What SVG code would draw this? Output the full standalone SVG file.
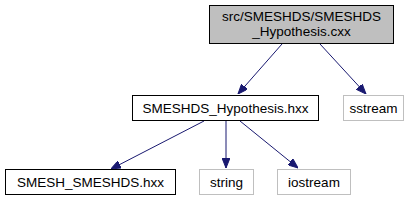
<svg xmlns="http://www.w3.org/2000/svg" width="418" height="201" viewBox="0 0 418 201">
<defs>
<style>
text{font-family:"Liberation Sans",Arial,sans-serif;font-size:13.5px;text-anchor:middle;fill:#000}
.doc{fill:#fff;stroke:#000;stroke-width:1}
.main{fill:#bfbfbf;stroke:#000;stroke-width:1}
.ext{fill:#fff;stroke:#bfbfbf;stroke-width:1}
.edge{stroke:#191970;stroke-width:1;fill:none}
</style>
<marker id="arr" viewBox="0 0 10 8" refX="10" refY="4" markerWidth="10" markerHeight="8" markerUnits="userSpaceOnUse" orient="auto">
<path d="M0,0 L10,4 L0,8 Z" fill="#191970" stroke="#191970"/>
</marker>
</defs>
<g id="connectors">
<path class="edge" d="M282,44 L238,94" marker-end="url(#arr)"/>
<path class="edge" d="M320,44 L366,94" marker-end="url(#arr)"/>
<path class="edge" d="M204,121 L111,169" marker-end="url(#arr)"/>
<path class="edge" d="M226,121 L226,168" marker-end="url(#arr)"/>
<path class="edge" d="M240,121 L298,168" marker-end="url(#arr)"/>
</g>
<g id="node1">
<rect class="main" x="209.5" y="5.5" width="184" height="38"/>
<text x="301.5" y="21">src/SMESHDS/SMESHDS</text>
<text x="301.5" y="36">_Hypothesis.cxx</text>
</g>
<g id="node2">
<rect class="doc" x="132.5" y="95.5" width="186" height="25"/>
<text x="225.5" y="112.5">SMESHDS_Hypothesis.hxx</text>
</g>
<g id="node3">
<rect class="ext" x="343.5" y="95.5" width="60" height="25"/>
<text x="373.5" y="112.5">sstream</text>
</g>
<g id="node4">
<rect class="doc" x="5.5" y="169.5" width="170" height="25"/>
<text x="90.5" y="186.5">SMESH_SMESHDS.hxx</text>
</g>
<g id="node5">
<rect class="ext" x="199.5" y="169.5" width="54" height="25"/>
<text x="226.5" y="186.5">string</text>
</g>
<g id="node6">
<rect class="ext" x="277.5" y="169.5" width="73" height="25"/>
<text x="314" y="186.5">iostream</text>
</g>
</svg>
